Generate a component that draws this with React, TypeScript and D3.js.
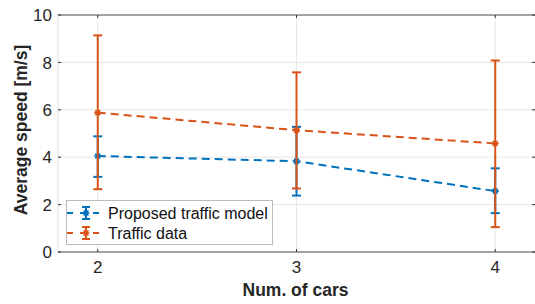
import React, { useEffect, useRef } from "react";
import * as d3 from "d3";

const cars = [2, 3, 4];
const modelMean = [4.05, 3.83, 2.57];
const modelLow = [3.17, 2.38, 1.64];
const modelHigh = [4.88, 5.28, 3.53];
const dataMean = [5.88, 5.14, 4.58];
const dataLow = [2.65, 2.68, 1.05];
const dataHigh = [9.14, 7.58, 8.08];
const yTicks = [0, 2, 4, 6, 8, 10];

const BLUE = "#0072BD";
const ORANGE = "#D95319";

export default function App() {
  const svgRef = useRef<SVGSVGElement | null>(null);
  const width = 535;
  const height = 304;
  const left = 58;
  const right = 535;
  const top = 15;
  const bottom = 252;

  useEffect(() => {
    const svg = d3.select(svgRef.current);
    svg.selectAll("*").remove();
    const font = "'Liberation Sans', Arial, sans-serif";

    const x = d3.scaleLinear().domain([1.8, 4.2]).range([left, right]);
    const y = d3.scaleLinear().domain([0, 10]).range([bottom, top]);

    // grid
    const grid = svg.append("g").attr("stroke", "#e6e6e6").attr("stroke-width", 1);
    yTicks.forEach((t) => {
      grid.append("line").attr("x1", left).attr("x2", right).attr("y1", y(t)).attr("y2", y(t));
    });
    cars.forEach((c) => {
      grid.append("line").attr("x1", x(c)).attr("x2", x(c)).attr("y1", top).attr("y2", bottom);
    });

    // box
    svg.append("line").attr("x1", left).attr("x2", right).attr("y1", top).attr("y2", top)
      .attr("stroke", "#555").attr("stroke-width", 1);
    svg.append("line").attr("x1", left).attr("x2", right).attr("y1", bottom).attr("y2", bottom)
      .attr("stroke", "#555").attr("stroke-width", 1);
    svg.append("line").attr("x1", left).attr("x2", left).attr("y1", top).attr("y2", bottom)
      .attr("stroke", "#ddd").attr("stroke-width", 1);

    // ticks
    const tk = svg.append("g").attr("stroke", "#333").attr("stroke-width", 1);
    yTicks.forEach((t) => {
      tk.append("line").attr("x1", left).attr("x2", left + 3).attr("y1", y(t)).attr("y2", y(t));
      tk.append("line").attr("x1", right - 3).attr("x2", right).attr("y1", y(t)).attr("y2", y(t));
    });
    cars.forEach((c) => {
      tk.append("line").attr("x1", x(c)).attr("x2", x(c)).attr("y1", bottom).attr("y2", bottom - 3);
      tk.append("line").attr("x1", x(c)).attr("x2", x(c)).attr("y1", top).attr("y2", top + 3);
    });

    // tick labels
    svg.append("g").selectAll("text").data(yTicks).join("text")
      .attr("x", left - 6).attr("y", (d) => y(d)).attr("dy", "0.36em")
      .attr("text-anchor", "end").attr("font-family", font).attr("font-size", 17)
      .attr("fill", "#262626").text((d) => d);
    svg.append("g").selectAll("text").data(cars).join("text")
      .attr("x", (d) => x(d)).attr("y", bottom + 21)
      .attr("text-anchor", "middle").attr("font-family", font).attr("font-size", 17)
      .attr("fill", "#262626").text((d) => d);

    // axis labels
    svg.append("text").attr("x", (left + right) / 2 - 1).attr("y", 296)
      .attr("text-anchor", "middle").attr("font-family", font).attr("font-size", 17.5)
      .attr("font-weight", "bold").attr("fill", "#262626").text("Num. of cars");
    svg.append("text").attr("transform", `translate(27,130) rotate(-90)`)
      .attr("text-anchor", "middle").attr("font-family", font).attr("font-size", 17.5)
      .attr("font-weight", "bold").attr("fill", "#262626").text("Average speed [m/s]");

    const star = (g: any, cx: number, cy: number, color: string) => {
      const s = 3.5;
      g.append("path")
        .attr("d", `M${cx - s},${cy}H${cx + s}M${cx},${cy - s}V${cy + s}M${cx - s * 0.7},${cy - s * 0.7}L${cx + s * 0.7},${cy + s * 0.7}M${cx - s * 0.7},${cy + s * 0.7}L${cx + s * 0.7},${cy - s * 0.7}`)
        .attr("stroke", color).attr("stroke-width", 1.6).attr("fill", "none");
    };

    const series = [
      { mean: modelMean, low: modelLow, high: modelHigh, color: BLUE },
      { mean: dataMean, low: dataLow, high: dataHigh, color: ORANGE },
    ];

    const line = d3.line<number>().x((_, i) => x(cars[i])).y((d) => y(d));
    series.forEach((s) => {
      const g = svg.append("g");
      g.append("path").attr("d", line(s.mean)).attr("fill", "none")
        .attr("stroke", s.color).attr("stroke-width", 2).attr("stroke-dasharray", "8,5");
      cars.forEach((c, i) => {
        const cx = x(c);
        g.append("line").attr("x1", cx).attr("x2", cx).attr("y1", y(s.low[i])).attr("y2", y(s.high[i]))
          .attr("stroke", s.color).attr("stroke-width", 2);
        [s.low[i], s.high[i]].forEach((v) => {
          g.append("line").attr("x1", cx - 4.5).attr("x2", cx + 4.5).attr("y1", y(v)).attr("y2", y(v))
            .attr("stroke", s.color).attr("stroke-width", 2);
        });
        star(g, cx, y(s.mean[i]), s.color);
      });
    });

    // legend
    const lg = svg.append("g");
    lg.append("rect").attr("x", 66.5).attr("y", 200.5).attr("width", 206).attr("height", 44)
      .attr("fill", "#fff").attr("stroke", "#bbb").attr("stroke-width", 1);
    const entries = [
      { label: "Proposed traffic model", color: BLUE },
      { label: "Traffic data", color: ORANGE },
    ];
    entries.forEach((e, i) => {
      const ly = 213 + i * 20;
      lg.append("line").attr("x1", 67).attr("x2", 104).attr("y1", ly).attr("y2", ly)
        .attr("stroke", e.color).attr("stroke-width", 2).attr("stroke-dasharray", "6,7");
      lg.append("line").attr("x1", 86).attr("x2", 86).attr("y1", ly - 6).attr("y2", ly + 6)
        .attr("stroke", e.color).attr("stroke-width", 2);
      [ly - 6, ly + 6].forEach((v) => {
        lg.append("line").attr("x1", 82).attr("x2", 90).attr("y1", v).attr("y2", v)
          .attr("stroke", e.color).attr("stroke-width", 2);
      });
      star(lg, 86, ly, e.color);
      lg.append("text").attr("x", 108).attr("y", ly).attr("dy", "0.36em")
        .attr("font-family", font).attr("font-size", 16).attr("fill", "#111").text(e.label);
    });
  }, []);

  return (
    <svg
      ref={svgRef}
      width={width}
      height={height}
      style={{ position: "absolute", left: 0, top: 0, display: "block" }}
    ></svg>
  );
}
